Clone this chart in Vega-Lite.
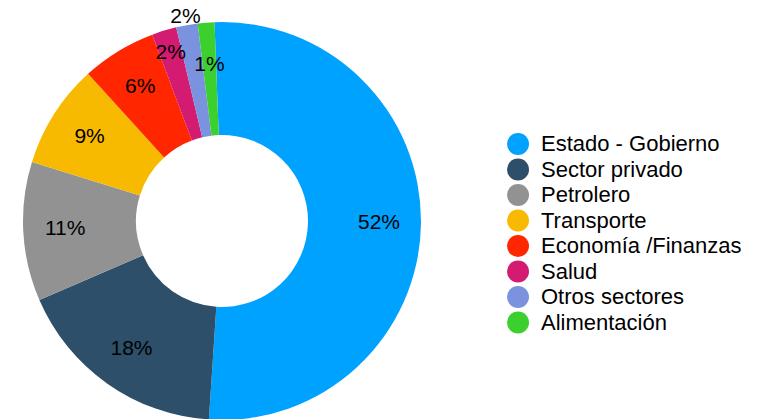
{
  "$schema": "https://vega.github.io/schema/vega-lite/v6.json",
  "width": 444,
  "height": 442,
  "padding": 0,
  "background": "white",
  "data": {
    "values": [
      {"sector": "Estado - Gobierno", "valor": 51.65, "label": "52%", "orden": 1},
      {"sector": "Sector privado", "valor": 17.45, "label": "18%", "orden": 2},
      {"sector": "Petrolero", "valor": 11.3, "label": "11%", "orden": 3},
      {"sector": "Transporte", "valor": 8.45, "label": "9%", "orden": 4},
      {"sector": "Economía /Finanzas", "valor": 6.05, "label": "6%", "orden": 5},
      {"sector": "Salud", "valor": 2.0, "label": "2%", "orden": 6},
      {"sector": "Otros sectores", "valor": 1.75, "label": "2%", "orden": 7},
      {"sector": "Alimentación", "valor": 1.35, "label": "1%", "orden": 8}
    ]
  },
  "encoding": {
    "theta": {"field": "valor", "type": "quantitative", "stack": true, "scale": {"range": [-0.0377, 6.2455]}},
    "order": {"field": "orden", "type": "quantitative"}
  },
  "layer": [
    {
      "mark": {"type": "arc", "innerRadius": 86, "outerRadius": 199},
      "encoding": {
        "color": {
          "field": "sector",
          "type": "nominal",
          "sort": ["Estado - Gobierno", "Sector privado", "Petrolero", "Transporte", "Economía /Finanzas", "Salud", "Otros sectores", "Alimentación"],
          "scale": {
            "domain": ["Estado - Gobierno", "Sector privado", "Petrolero", "Transporte", "Economía /Finanzas", "Salud", "Otros sectores", "Alimentación"],
            "range": ["#00A2FF", "#2D4F69", "#929292", "#F8BA00", "#FF2600", "#D31B72", "#7B93DE", "#3CD02F"]
          },
          "legend": {
            "orient": "none",
            "legendX": 507,
            "legendY": 133,
            "title": null,
            "symbolType": "circle",
            "symbolSize": 484,
            "symbolStrokeWidth": 0,
            "symbolOpacity": 1,
            "labelFontSize": 22,
            "labelFont": "Liberation Sans",
            "labelColor": "black",
            "rowPadding": 3.5,
            "labelOffset": 12,
            "padding": 0,
            "labelLimit": 400
          }
        }
      }
    },
    {
      "mark": {"type": "text", "radius": 157, "fontSize": 21, "font": "Liberation Sans", "color": "black"},
      "encoding": {
        "text": {"condition": {"test": "datum.sector !== 'Salud' && datum.sector !== 'Otros sectores'", "field": "label"}, "value": ""}
      }
    },
    {
      "mark": {"type": "text", "radius": 176, "fontSize": 21, "font": "Liberation Sans", "color": "black"},
      "encoding": {
        "text": {"condition": {"test": "datum.sector === 'Salud'", "field": "label"}, "value": ""}
      }
    },
    {
      "mark": {"type": "text", "radius": 207, "fontSize": 21, "font": "Liberation Sans", "color": "black"},
      "encoding": {
        "text": {"condition": {"test": "datum.sector === 'Otros sectores'", "field": "label"}, "value": ""}
      }
    }
  ],
  "config": {"view": {"stroke": null}}
}
